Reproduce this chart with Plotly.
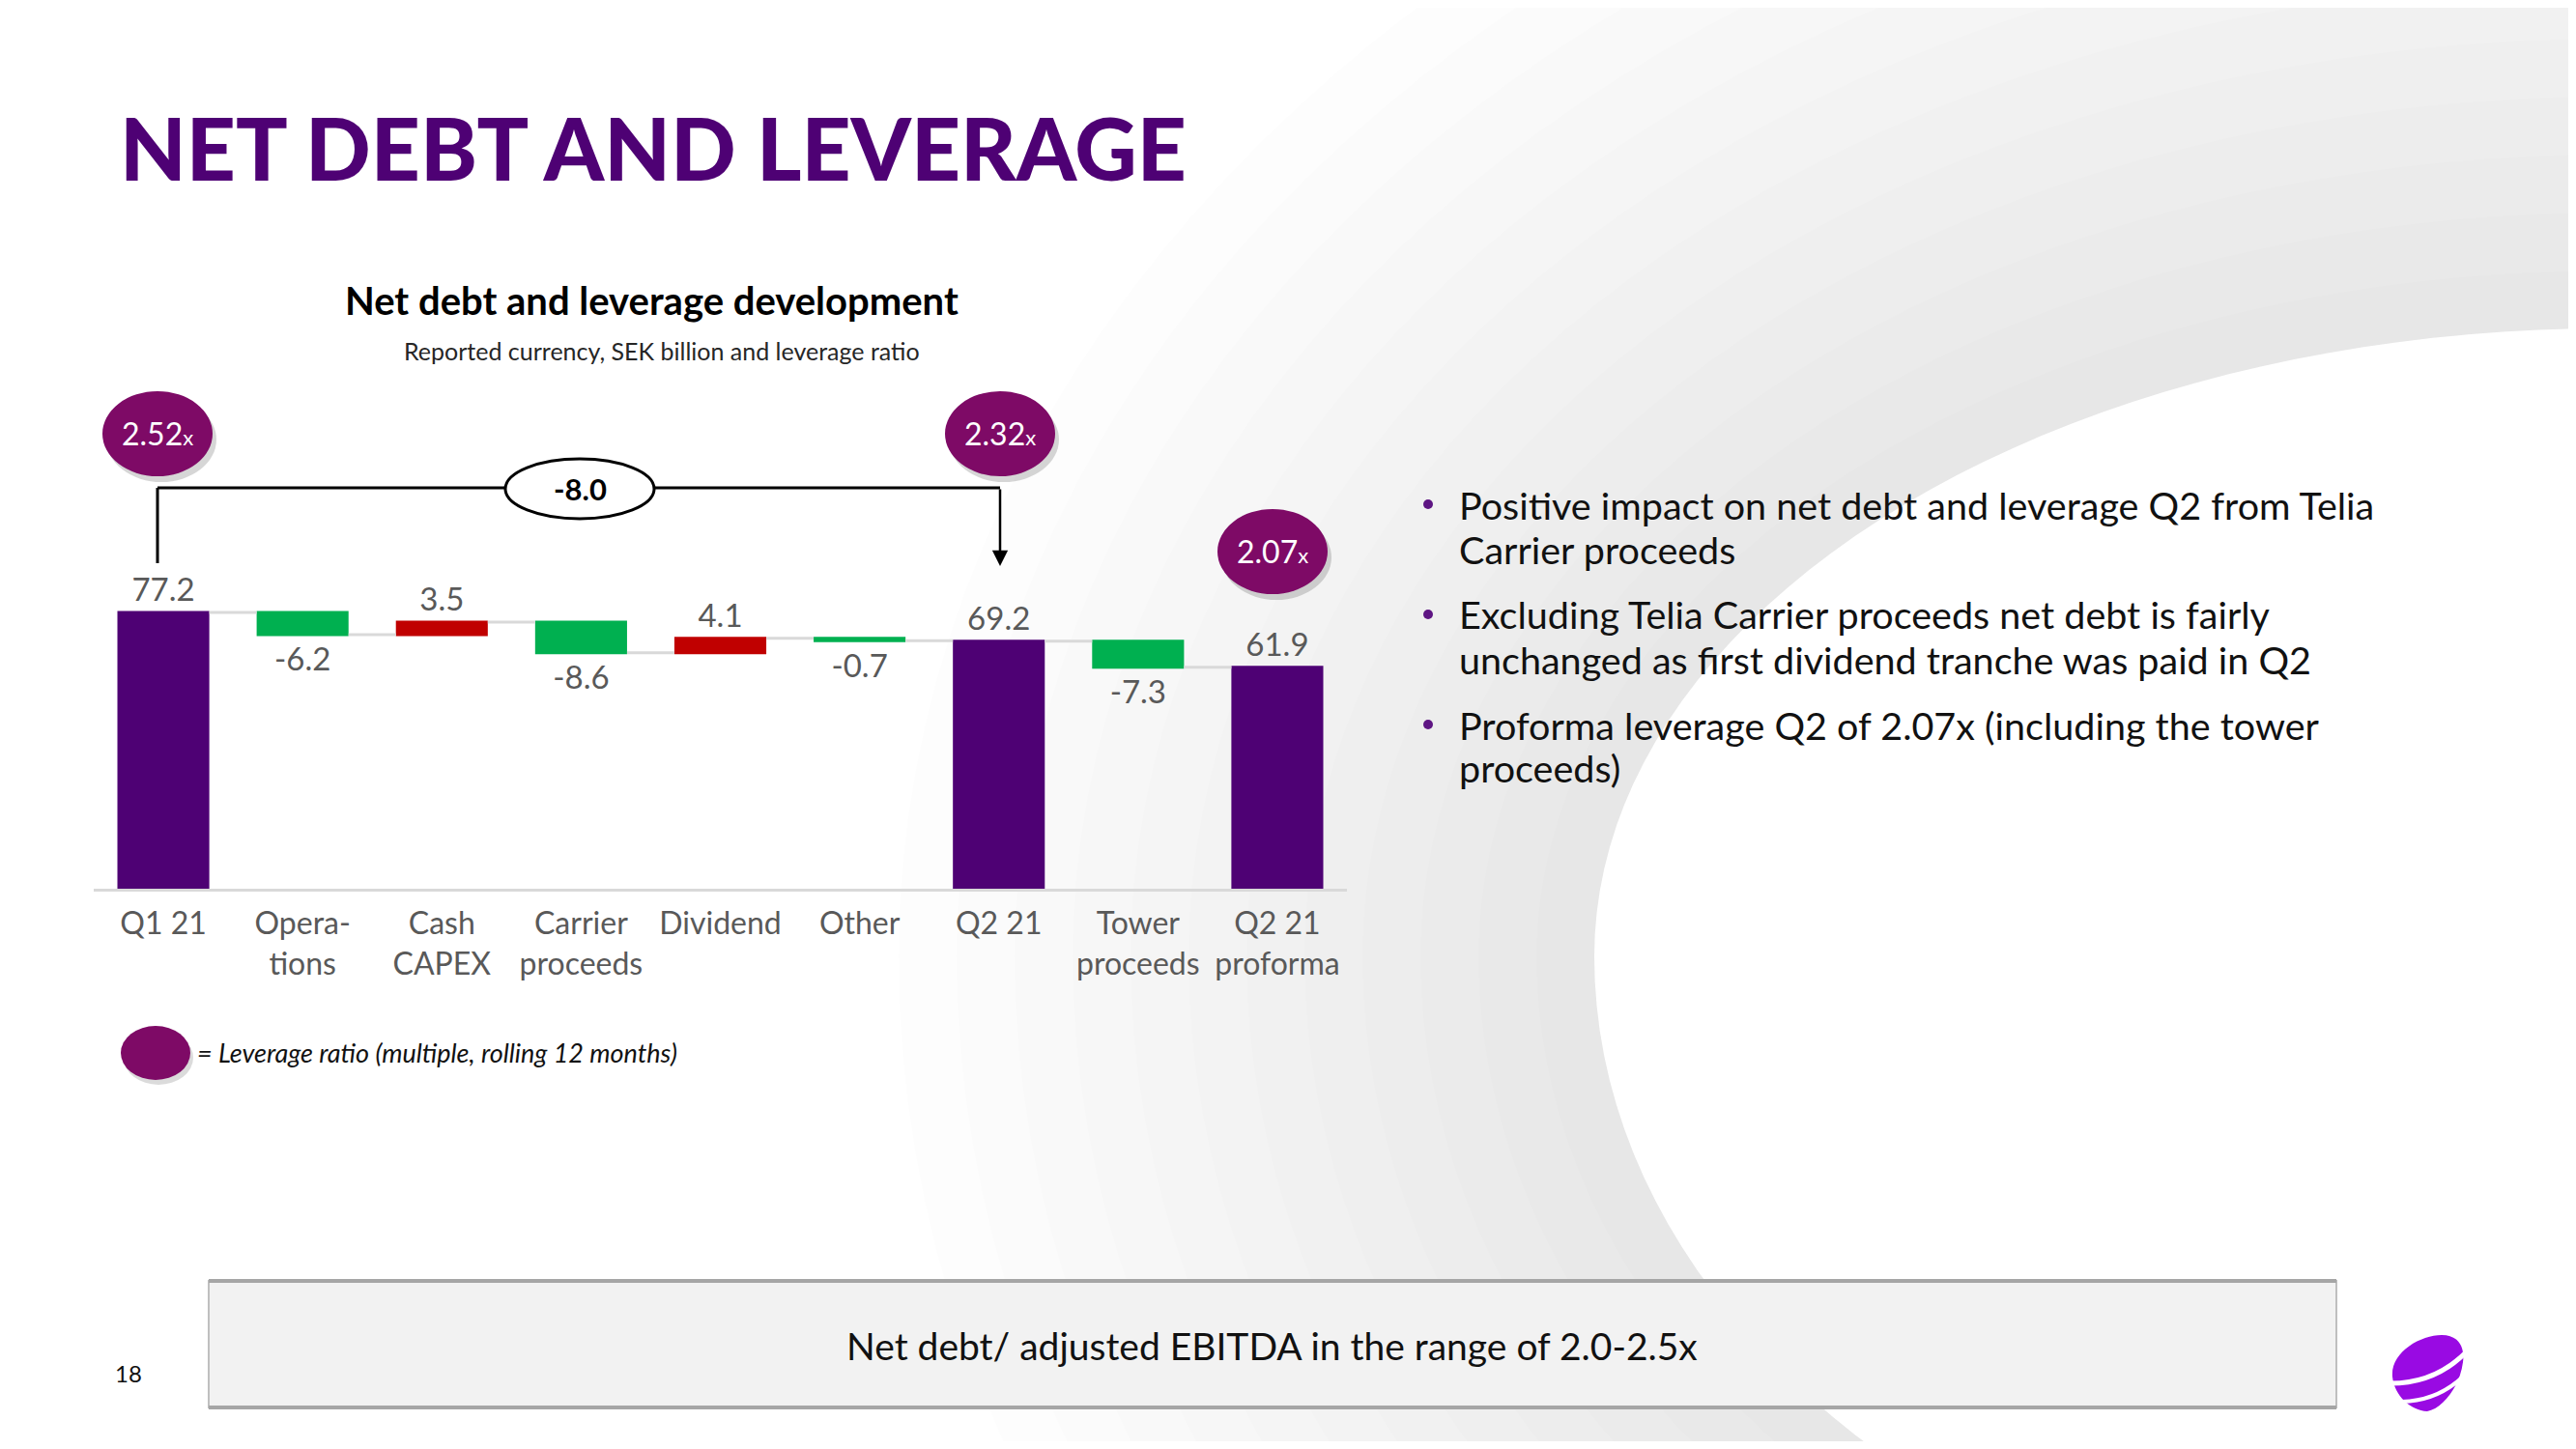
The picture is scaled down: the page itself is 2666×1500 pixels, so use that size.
import math
import plotly.graph_objects as go

# ---------------- data ----------------
categories = ["Q1 21", "Opera-<br>tions", "Cash<br>CAPEX", "Carrier<br>proceeds", "Dividend",
              "Other", "Q2 21", "Tower<br>proceeds", "Q2 21<br>proforma"]
values = [77.2, -6.2, 3.5, -8.6, 4.1, -0.7, 69.2, -7.3, 61.9]
measures = ["absolute", "relative", "relative", "relative", "relative",
            "relative", "absolute", "relative", "total"]
value_labels = ["77.2", "-6.2", "3.5", "-8.6", "4.1", "-0.7", "69.2", "-7.3", "61.9"]
leverage_labels = ["2.52", "2.32", "2.07"]
change_label = "-8.0"
bullets = [
    ["Positive impact on net debt and leverage Q2 from Telia", "Carrier proceeds"],
    ["Excluding Telia Carrier proceeds net debt is fairly", "unchanged as first dividend tranche was paid in Q2"],
    ["Proforma leverage Q2 of 2.07x (including the tower", "proceeds)"],
]

# ---------------- geometry helpers (page pixels -> figure) ----------------
PAGE_W, PAGE_H = 2666, 1500
OFF = 8                                  # default page body margin
W, H = PAGE_W - 2 * OFF, PAGE_H - 2 * OFF
PX_L, PX_R = 97, 1394                    # plot area x (page px)
PX_BASE = 920                            # page y of value 0
PPU = 286 / 77.2                         # px per unit
Y_MAX = 146
CAT_W = (PX_R - PX_L) / 9

def px(x):
    return (x - OFF) / W

def py(y):
    return 1 - (y - OFF) / H

def cat_from_px(x):
    return (x - PX_L) / CAT_W - 0.5

def val_from_px(y):
    return (PX_BASE - y) / PPU

FONT = "Lato"
PURPLE = "#4E0174"
BUBBLE = "#7E0A66"

fig = go.Figure()

fig.add_trace(go.Waterfall(
    x=categories, y=values, measure=measures,
    text=value_labels, texttemplate="%{text}", textposition="outside",
    textfont=dict(family=FONT, size=33, color="#595959"),
    increasing=dict(marker=dict(color="#C00000")),
    decreasing=dict(marker=dict(color="#00B050")),
    totals=dict(marker=dict(color=PURPLE)),
    connector=dict(mode="between", line=dict(color="#D9D9D9", width=3)),
    cliponaxis=False, hoverinfo="skip", width=0.66,
))

shapes = []
annotations = []

# ---------- background: light grey halo around a large white swoosh ----------
def swoosh_path(cx, cy, rx, ry_top, ry_bot, grow):
    pts = []
    n = 90
    for i in range(n + 1):
        t = math.pi / 2 + math.pi * i / n      # from top (90deg) through left to bottom (270deg)
        ry = ry_top if math.sin(t) > 0 else ry_bot
        x = cx + (rx + grow) * math.cos(t)
        y = cy - (ry + grow) * math.sin(t)
        pts.append((x, y))
    # close through far right outside the page
    pts.append((cx + 2000, pts[-1][1]))
    pts.append((cx + 2000, pts[0][1]))
    s = "M " + " L ".join(f"{px(x):.5f},{py(y):.5f}" for x, y in pts) + " Z"
    return s

SCX, SCY, SRX, SRT, SRB = 2700, 990, 1050, 650, 740
for d in range(720, 0, -60):
    shapes.append(dict(type="path", xref="paper", yref="paper", layer="below",
                       path=swoosh_path(SCX, SCY, SRX, SRT, SRB, d),
                       fillcolor="rgba(0,0,0,0.006)", line=dict(width=0)))
# grey band at the top-right corner, above the swoosh
shapes.append(dict(type="path", xref="paper", yref="paper", layer="below",
                   path=swoosh_path(SCX, SCY, SRX, SRT, SRB, 0),
                   fillcolor="white", line=dict(width=0)))

# ---------- leverage bubbles ----------
bub_px = [(163, 449), (1035, 449), (1317, 571)]
RX, RY = 57, 44
for (bx, by), lab in zip(bub_px, leverage_labels):
    shapes.append(dict(type="circle", xref="x", yref="y", layer="above",
                       x0=cat_from_px(bx - RX + 4), x1=cat_from_px(bx + RX + 4),
                       y0=val_from_px(by + RY + 6), y1=val_from_px(by - RY + 6),
                       fillcolor="rgba(0,0,0,0.16)", line=dict(width=0)))
    shapes.append(dict(type="circle", xref="x", yref="y", layer="above",
                       x0=cat_from_px(bx - RX), x1=cat_from_px(bx + RX),
                       y0=val_from_px(by + RY), y1=val_from_px(by - RY),
                       fillcolor=BUBBLE, line=dict(width=0)))
    annotations.append(dict(x=cat_from_px(bx), y=val_from_px(by), xref="x", yref="y",
                            text=f"{lab}<span style='font-size:22px'>x</span>", showarrow=False,
                            font=dict(family=FONT, size=32, color="white")))

# ---------- bracket with change ----------
xl = cat_from_px(163)
xr = cat_from_px(1035)
yline = val_from_px(505)
shapes.append(dict(type="line", xref="x", yref="y", layer="above",
                   x0=xl, x1=xl, y0=val_from_px(583), y1=yline, line=dict(color="black", width=3)))
shapes.append(dict(type="line", xref="x", yref="y", layer="above",
                   x0=xl, x1=xr, y0=yline, y1=yline, line=dict(color="black", width=3)))
annotations.append(dict(x=xr, y=val_from_px(586), ax=xr, ay=yline, xref="x", yref="y",
                        axref="x", ayref="y", text="", showarrow=True, arrowhead=2,
                        arrowsize=1.3, arrowwidth=2.5, arrowcolor="black", standoff=0))
ox, oy, orx, ory = 600, 506, 77, 31
shapes.append(dict(type="circle", xref="x", yref="y", layer="above",
                   x0=cat_from_px(ox - orx), x1=cat_from_px(ox + orx),
                   y0=val_from_px(oy + ory), y1=val_from_px(oy - ory),
                   fillcolor="white", line=dict(color="black", width=3)))
annotations.append(dict(x=cat_from_px(ox), y=val_from_px(oy), xref="x", yref="y",
                        text=f"<b>{change_label}</b>", showarrow=False,
                        font=dict(family=FONT, size=31, color="black")))

# ---------- titles ----------
annotations.append(dict(x=px(122), y=py(153), xref="paper", yref="paper", xanchor="left", yanchor="middle",
                        text="NET DEBT AND LEVERAGE", showarrow=False,
                        font=dict(family=FONT, size=89, color=PURPLE, weight=900)))
annotations.append(dict(x=px(675), y=py(311), xref="paper", yref="paper", xanchor="center", yanchor="middle",
                        text="<b>Net debt and leverage development</b>", showarrow=False,
                        font=dict(family=FONT, size=40, color="black")))
annotations.append(dict(x=px(685), y=py(363), xref="paper", yref="paper", xanchor="center", yanchor="middle",
                        text="Reported currency, SEK billion and leverage ratio", showarrow=False,
                        font=dict(family=FONT, size=25, color="#262626")))

# ---------- legend ----------
lx, ly, lrx, lry = 161, 1090, 36, 28
shapes.append(dict(type="circle", xref="paper", yref="paper", layer="above",
                   x0=px(lx - lrx + 3), x1=px(lx + lrx + 3), y0=py(ly + lry + 5), y1=py(ly - lry + 5),
                   fillcolor="rgba(0,0,0,0.14)", line=dict(width=0)))
shapes.append(dict(type="circle", xref="paper", yref="paper", layer="above",
                   x0=px(lx - lrx), x1=px(lx + lrx), y0=py(ly + lry), y1=py(ly - lry),
                   fillcolor=BUBBLE, line=dict(width=0)))
annotations.append(dict(x=px(202), y=py(1089), xref="paper", yref="paper", xanchor="left", yanchor="middle",
                        text="<i>= Leverage ratio (multiple, rolling 12 months)</i>", showarrow=False,
                        font=dict(family=FONT, size=27, color="#111111")))

# ---------- bullets ----------
line_centers = [(522, 568), (636, 682), (750, 794)]
for lines, ys in zip(bullets, line_centers):
    for txt, yc in zip(lines, ys):
        annotations.append(dict(x=px(1508), y=py(yc), xref="paper", yref="paper", xanchor="left",
                                yanchor="middle", text=txt, showarrow=False, align="left",
                                font=dict(family=FONT, size=39.5, color="#111111")))
    shapes.append(dict(type="circle", xref="paper", yref="paper", layer="above",
                       x0=px(1473), x1=px(1483), y0=py(ys[0] + 5), y1=py(ys[0] - 5),
                       fillcolor="#5E1583", line=dict(width=0)))

# ---------- bottom box ----------
bx0, by0, bx1, by1 = 216, 1326, 2418, 1457
shapes.append(dict(type="rect", xref="paper", yref="paper", layer="above",
                   x0=px(bx0), x1=px(bx1), y0=py(by1), y1=py(by0),
                   fillcolor="#F2F2F2", line=dict(color="#BFBFBF", width=2)))
for yy in (by0, by1):
    shapes.append(dict(type="line", xref="paper", yref="paper", layer="above",
                       x0=px(bx0), x1=px(bx1), y0=py(yy), y1=py(yy),
                       line=dict(color="#A6A6A6", width=4)))
annotations.append(dict(x=px(1316), y=py(1393), xref="paper", yref="paper", xanchor="center", yanchor="middle",
                        text="Net debt/ adjusted EBITDA in the range of 2.0-2.5x", showarrow=False,
                        font=dict(family=FONT, size=39, color="#111111")))

# page number
annotations.append(dict(x=px(133), y=py(1421), xref="paper", yref="paper", xanchor="center", yanchor="middle",
                        text="18", showarrow=False, font=dict(family=FONT, size=24, color="#111111")))

# ---------- logo ----------
def path_from(cmds):
    out = []
    for c in cmds:
        if isinstance(c, str):
            out.append(c)
        else:
            out.append(f"{px(c[0]):.5f},{py(c[1]):.5f}")
    return " ".join(out)

logo = path_from(["M", (2476, 1425),
                  "C", (2474, 1400), (2505, 1382), (2527, 1382),
                  "C", (2545, 1382), (2551, 1395), (2549, 1410),
                  "C", (2546, 1435), (2528, 1458), (2512, 1461),
                  "C", (2495, 1460), (2478, 1445), (2476, 1425), "Z"])
shapes.append(dict(type="path", xref="paper", yref="paper", layer="above", path=logo,
                   fillcolor="#990AE3", line=dict(width=0)))
band1 = path_from(["M", (2474, 1432), "Q", (2520, 1432), (2552, 1400)])
band2 = path_from(["M", (2486, 1451), "Q", (2522, 1450), (2548, 1426)])
shapes.append(dict(type="path", xref="paper", yref="paper", layer="above", path=band1,
                   fillcolor="rgba(0,0,0,0)", line=dict(color="white", width=5)))
shapes.append(dict(type="path", xref="paper", yref="paper", layer="above", path=band2,
                   fillcolor="rgba(0,0,0,0)", line=dict(color="white", width=4)))

fig.update_layout(
    width=W, height=H,
    margin=dict(l=0, r=0, t=0, b=0),
    paper_bgcolor="white", plot_bgcolor="rgba(0,0,0,0)",
    showlegend=False,
    shapes=shapes, annotations=annotations,
    xaxis=dict(domain=[px(PX_L), px(PX_R)], range=[-0.5, 8.5], type="category",
               showline=True, linecolor="#D9D9D9", linewidth=3, showgrid=False, zeroline=False,
               ticks="", ticklabelstandoff=6,
               tickfont=dict(family=FONT, size=32, color="#595959"), fixedrange=True),
    yaxis=dict(domain=[py(PX_BASE), py(PX_BASE - Y_MAX * PPU)], range=[0, Y_MAX],
               visible=False, showgrid=False, zeroline=False, fixedrange=True),
)

fig.write_html("out.html")
